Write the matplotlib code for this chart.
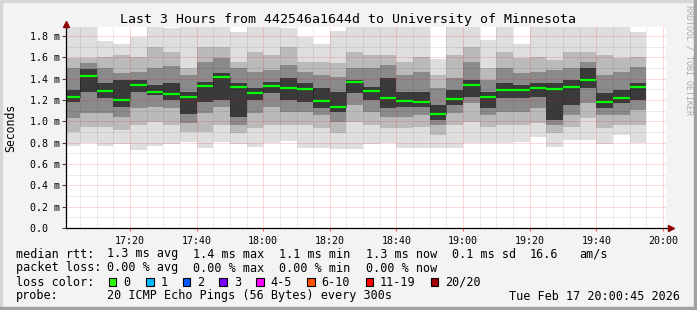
import matplotlib
matplotlib.use('Agg')
from matplotlib import pyplot as plt
from matplotlib.patches import Rectangle
from matplotlib.ticker import MultipleLocator
import numpy as np

# 5 minute bins, start of each bin
bin_start = ['17:00', '17:05', '17:10', '17:15', '17:20', '17:25', '17:30', '17:35', '17:40',
             '17:45', '17:50', '17:55', '18:00', '18:05', '18:10', '18:15', '18:20', '18:25',
             '18:30', '18:35', '18:40', '18:45', '18:50', '18:55', '19:00', '19:05', '19:10',
             '19:15', '19:20', '19:25', '19:30', '19:35', '19:40', '19:45', '19:50']

# median rtt (ms)
median = [1.231, 1.425, 1.287, 1.203, 1.344, 1.278, 1.259, 1.231, 1.331, 1.416, 1.325, 1.269,
          1.334, 1.313, 1.306, 1.194, 1.134, 1.372, 1.287, 1.219, 1.194, 1.181, 1.069, 1.209,
          1.341, 1.228, 1.294, 1.294, 1.313, 1.303, 1.322, 1.387, 1.181, 1.219, 1.322]

# smoke: slowest / fastest ping and inner ping pairs (ms)
ping_max = [1.90, 1.90, 1.75, 1.72, 1.79, 1.90, 1.87, 1.90, 1.90, 1.90, 1.84, 1.90, 1.90, 1.87,
            1.79, 1.72, 1.85, 1.90, 1.90, 1.90, 1.90, 1.90, 1.58, 1.90, 1.90, 1.76, 1.90, 1.72,
            1.90, 1.90, 1.90, 1.90, 1.90, 1.90, 1.84]
ping_min = [0.772, 0.794, 0.772, 0.784, 0.731, 0.772, 0.787, 0.803, 0.750, 0.803, 0.787, 0.762,
            0.800, 0.819, 0.750, 0.750, 0.738, 0.738, 0.787, 0.794, 0.747, 0.747, 0.747, 0.753,
            0.794, 0.800, 0.800, 0.809, 0.856, 0.762, 0.825, 0.825, 0.787, 0.872, 0.800]
hi2 = [1.590, 1.590, 1.606, 1.622, 1.606, 1.694, 1.653, 1.497, 1.700, 1.700, 1.559, 1.653, 1.622,
       1.694, 1.559, 1.559, 1.544, 1.653, 1.622, 1.622, 1.559, 1.606, 1.434, 1.622, 1.700, 1.497,
       1.653, 1.591, 1.606, 1.575, 1.653, 1.653, 1.622, 1.591, 1.606]
lo2 = [0.903, 0.950, 0.950, 0.919, 0.966, 0.997, 0.966, 0.900, 0.903, 0.966, 0.888, 0.934, 0.966,
       0.966, 0.966, 0.934, 0.888, 0.997, 0.966, 0.934, 0.934, 0.950, 0.872, 0.966, 0.997, 0.950,
       0.966, 0.966, 0.981, 0.888, 0.950, 1.028, 0.934, 0.966, 0.966]
hi3 = [1.497, 1.544, 1.497, 1.450, 1.466, 1.497, 1.516, 1.434, 1.559, 1.591, 1.497, 1.466, 1.481,
       1.528, 1.466, 1.434, 1.419, 1.497, 1.497, 1.528, 1.434, 1.466, 1.309, 1.403, 1.559, 1.388,
       1.497, 1.450, 1.466, 1.481, 1.497, 1.559, 1.434, 1.466, 1.512]
lo3 = [1.028, 1.075, 1.075, 1.044, 1.122, 1.137, 1.122, 0.980, 1.075, 1.137, 0.966, 1.075, 1.137,
       1.090, 1.090, 1.059, 0.997, 1.153, 1.090, 1.044, 1.044, 1.059, 0.966, 1.075, 1.169, 1.059,
       1.090, 1.090, 1.122, 0.966, 1.059, 1.169, 1.059, 1.059, 1.106]
hi4 = [1.294, 1.490, 1.356, 1.388, 1.388, 1.341, 1.356, 1.278, 1.372, 1.450, 1.356, 1.310, 1.372,
       1.403, 1.356, 1.310, 1.278, 1.388, 1.325, 1.403, 1.278, 1.278, 1.153, 1.294, 1.388, 1.278,
       1.356, 1.341, 1.356, 1.356, 1.388, 1.497, 1.263, 1.294, 1.356]
lo4 = [1.184, 1.278, 1.216, 1.137, 1.278, 1.247, 1.200, 1.070, 1.184, 1.200, 1.044, 1.200, 1.263,
       1.200, 1.184, 1.122, 1.090, 1.263, 1.200, 1.122, 1.137, 1.137, 1.013, 1.153, 1.231, 1.122,
       1.216, 1.216, 1.231, 1.013, 1.153, 1.310, 1.122, 1.169, 1.200]

x_ticks = ['17:20', '17:40', '18:00', '18:20', '18:40', '19:00', '19:20', '19:40', '20:00']
y_ticks = [0.0, 0.2, 0.4, 0.6, 0.8, 1.0, 1.2, 1.4, 1.6, 1.8]
y_labels = ['0.0\u00a0\u00a0', '0.2 m', '0.4 m', '0.6 m', '0.8 m', '1.0 m', '1.2 m', '1.4 m',
            '1.6 m', '1.8 m']

rtt_items = ['1.3 ms avg', '1.4 ms max', '1.1 ms min', '1.3 ms now', '0.1 ms sd', '16.6', 'am/s']
loss_items = ['0.00 % avg', '0.00 % max', '0.00 % min', '0.00 % now']
loss_labels = ['0', '1', '2', '3', '4-5', '6-10', '11-19', '20/20']
loss_colors = ['#26ff00', '#00b8ff', '#0059ff', '#7a00ff', '#ff00ff', '#ff5500', '#ff0000', '#a10000']

W, H = 697, 310


def minutes(hhmm):
    h, m = hhmm.split(':')
    return (int(h) - 17) * 60 + int(m)


def fx(px):
    return px / W


def fy(py):
    return 1 - py / H


plt.rcParams['font.family'] = 'DejaVu Sans Mono'

fig = plt.figure(figsize=(W / 100, H / 100), dpi=100, facecolor='#f3f3f3')

# frame
fig.patches.append(Rectangle((0, fy(2)), 1, 2 / H, transform=fig.transFigure, color='#d6d6d6', zorder=0))
fig.patches.append(Rectangle((0, 0), 2 / W, 1, transform=fig.transFigure, color='#d6d6d6', zorder=0))
fig.patches.append(Rectangle((0, 0), 1, 3 / H, transform=fig.transFigure, color='#a0a0a0', zorder=0))
fig.patches.append(Rectangle((fx(W - 3), 0), 3 / W, 1, transform=fig.transFigure, color='#a0a0a0', zorder=0))

ax = fig.add_axes([fx(65.8), fy(228), 599.7 / W, 201 / H])
ax.set_facecolor('white')

x0 = np.array([minutes(t) for t in bin_start])
med = np.array(median)

bands = [(ping_min, ping_max, '#dedede'),
         (lo2, hi2, '#bababa'),
         (lo3, hi3, '#8a8a8a'),
         (lo4, hi4, '#3a3a3a')]
for lo, hi, c in bands:
    lo = np.array(lo)
    ax.bar(x0, np.array(hi) - lo, bottom=lo, width=5, align='edge', color=c, linewidth=0, zorder=1)

ax.vlines(x0[1:], med[:-1], med[1:], colors='#202020', linestyles=(0, (1, 1)), lw=0.72, zorder=3)
ax.hlines(med, x0, x0 + 5, colors='#00ff00', lw=1.6, zorder=4)

ax.set_xlim(0.75, 180.75)
ax.set_ylim(0, 1.884)

ax.set_xticks([minutes(t) for t in x_ticks])
ax.set_xticklabels(x_ticks)
ax.xaxis.set_minor_locator(MultipleLocator(5))
ax.set_yticks(y_ticks)
ax.set_yticklabels(y_labels)
ax.yaxis.set_minor_locator(MultipleLocator(0.1))

ax.set_axisbelow(False)
ax.grid(which='major', color='#ff0000', alpha=0.3, linestyle=(0, (1, 1)), lw=0.72)
ax.grid(which='minor', color='#000000', alpha=0.15, linestyle=(0, (1, 1)), lw=0.72)

for s in ax.spines.values():
    s.set_visible(False)

ax.tick_params(axis='y', which='major', length=2.9, width=0.8, pad=1.3, labelsize=7.2, color='#404040')
ax.tick_params(axis='x', which='major', length=2, width=0.8, pad=4, labelsize=7.2, color='#ff6060')
ax.tick_params(which='minor', length=0)

# axis lines with arrows
ax.plot([0, 0], [0, 1.006], transform=ax.transAxes, color='black', lw=0.9, clip_on=False, zorder=6)
ax.plot([0, 1.006], [0, 0], transform=ax.transAxes, color='black', lw=0.9, clip_on=False, zorder=6)
ax.plot(0, 1.017, marker='^', ms=4, color='#8b0000', transform=ax.transAxes, clip_on=False, zorder=6)
ax.plot(1.0085, 0, marker='>', ms=4, color='#8b0000', transform=ax.transAxes, clip_on=False, zorder=6)

fig.text(fx(348), fy(19.5), 'Last 3 Hours from 442546a1644d to University of Minnesota',
         ha='center', va='center', fontsize=9.5)
fig.text(fx(11), fy(128), 'Seconds', rotation=90, ha='center', va='center', fontsize=8.3)
fig.text(fx(689), fy(5), 'RRDTOOL / TOBI OETIKER', rotation=270, ha='center', va='top',
         fontsize=6, color='#aaaaaa')

# legend
lx = [107, 193, 279, 366, 452, 530, 579]
fig.text(fx(16), fy(254), 'median rtt:', va='center', fontsize=8.5)
for x, t in zip(lx, rtt_items):
    fig.text(fx(x), fy(254), t, va='center', fontsize=8.5)

fig.text(fx(16), fy(268), 'packet loss:', va='center', fontsize=8.5)
for x, t in zip(lx, loss_items):
    fig.text(fx(x), fy(268), t, va='center', fontsize=8.5)

fig.text(fx(16), fy(282), 'loss color:', va='center', fontsize=8.5)
box_x = [108.5, 146, 182.7, 219.3, 256, 307, 365.5, 430.5]
for x, t, c in zip(box_x, loss_labels, loss_colors):
    fig.patches.append(Rectangle((fx(x), fy(286)), 7.5 / W, 8 / H, transform=fig.transFigure,
                                 facecolor=c, edgecolor='black', lw=0.8))
    fig.text(fx(x + 14.5), fy(282), t, va='center', fontsize=8.5)

fig.text(fx(16), fy(296), 'probe:', va='center', fontsize=8.5)
fig.text(fx(107), fy(296), '20 ICMP Echo Pings (56 Bytes) every 300s', va='center', fontsize=8.5)
fig.text(fx(680), fy(296), 'Tue Feb 17 20:00:45 2026', ha='right', va='center', fontsize=8.5)

fig.savefig('out.png', dpi=100, facecolor=fig.get_facecolor())
